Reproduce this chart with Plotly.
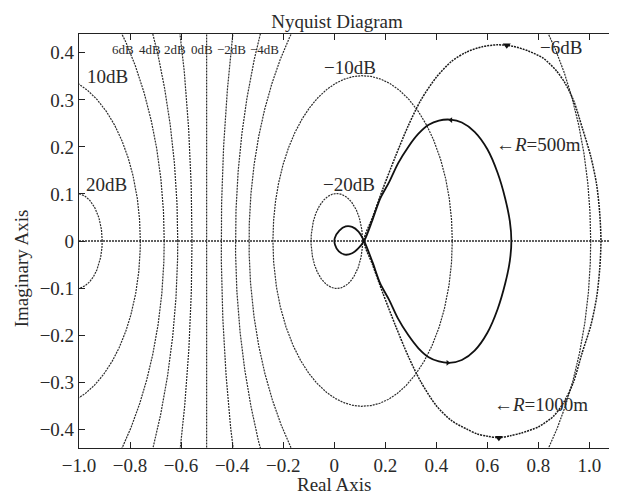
import numpy as np
import plotly.graph_objects as go

# ---------------- data ----------------
db_levels = [20, 10, 6, 4, 2, 0, -2, -4, -6, -10, -20]

r500_x = [0.117, 0.15, 0.18, 0.215, 0.25, 0.29, 0.33, 0.37, 0.41, 0.455, 0.50, 0.55, 0.60, 0.64, 0.67, 0.688, 0.694,
          0.688, 0.67, 0.64, 0.60, 0.55, 0.50, 0.45, 0.41, 0.37, 0.33, 0.29, 0.25, 0.215, 0.18, 0.15, 0.117,
          0.095, 0.07, 0.045, 0.02, 0.002, 0.003, 0.018, 0.042, 0.07, 0.095, 0.117]
r500_y = [0.0, 0.045, 0.09, 0.125, 0.165, 0.20, 0.228, 0.247, 0.256, 0.258, 0.252, 0.232, 0.195, 0.145, 0.09, 0.042, 0.0,
          -0.042, -0.09, -0.145, -0.195, -0.233, -0.253, -0.259, -0.256, -0.247, -0.228, -0.20, -0.165, -0.125, -0.09, -0.045, 0.0,
          0.02, 0.03, 0.031, 0.022, 0.006, -0.008, -0.022, -0.029, -0.026, -0.015, 0.0]

r1000_x = [0.117, 0.15, 0.19, 0.24, 0.29, 0.34, 0.40, 0.46, 0.52, 0.58, 0.64, 0.70, 0.76, 0.82, 0.87, 0.905,
           0.938, 0.972, 1.005, 1.028, 1.04, 1.045,
           1.04, 1.028, 1.005, 0.97, 0.936, 0.90, 0.86, 0.80, 0.734, 0.69, 0.645, 0.60, 0.56, 0.52,
           0.46, 0.40, 0.34, 0.29, 0.24, 0.19, 0.15, 0.117]
r1000_y = [0.0, 0.05, 0.11, 0.18, 0.245, 0.30, 0.348, 0.382, 0.402, 0.413, 0.417, 0.414, 0.404, 0.388, 0.362, 0.335,
           0.298, 0.24, 0.18, 0.12, 0.06, 0.0,
           -0.06, -0.12, -0.18, -0.24, -0.302, -0.342, -0.372, -0.395, -0.408, -0.414, -0.418, -0.415, -0.41, -0.40,
           -0.382, -0.35, -0.30, -0.245, -0.18, -0.11, -0.05, 0.0]

arrow1000_x = [0.676, 0.645]
arrow1000_y = [0.416, -0.418]
arrow500_x = [0.457, 0.445]
arrow500_y = [0.257, -0.259]

x_tick_vals = [-1.0, -0.8, -0.6, -0.4, -0.2, 0, 0.2, 0.4, 0.6, 0.8, 1.0]
x_tick_text = ["\u22121.0", "\u22120.8", "\u22120.6", "\u22120.4", "\u22120.2", "0", "0.2", "0.4", "0.6", "0.8", "1.0"]
y_tick_vals = [-0.4, -0.3, -0.2, -0.1, 0, 0.1, 0.2, 0.3, 0.4]
y_tick_text = ["\u22120.4", "\u22120.3", "\u22120.2", "\u22120.1", "0", "0.1", "0.2", "0.3", "0.4"]

grid_labels = ["6dB", "4dB", "2dB", "0dB", "\u22122dB", "\u22124dB"]
grid_label_x = [-0.827, -0.721, -0.623, -0.519, -0.404, -0.274]
grid_label_y = 0.407

big_labels = ["10dB", "20dB", "\u221210dB", "\u221220dB", "\u22126dB",
              "\u2190<i>R</i>=500m", "\u2190<i>R</i>=1000m"]
big_label_x = [-0.889, -0.893, 0.06, 0.059, 0.89, 0.80, 0.811]
big_label_y = [0.35, 0.12, 0.369, 0.12, 0.412, 0.205, -0.348]

XR = [-1.0, 1.1]
YR = [-0.44, 0.44]

FONT = "Liberation Serif"
TXT = "#2a2a2a"
GRID_C = "#2c2c2c"

# page body has an 8px margin -> figure placed at (8, 8)
W, H = 609, 488

fig = go.Figure()

# real axis dotted line
fig.add_trace(go.Scatter(x=XR, y=[0, 0], mode="lines",
                         line=dict(color=GRID_C, width=1.6, dash="2px,1px"),
                         hoverinfo="skip", showlegend=False))

# constant-magnitude (M) circles
t = np.linspace(0, 2 * np.pi, 1441)
for db in db_levels:
    M = 10 ** (db / 20.0)
    if db == 0:
        xs, ys = [-0.5, -0.5], [-1, 1]
    else:
        c = M * M / (1 - M * M)
        r = abs(M / (1 - M * M))
        xs, ys = c + r * np.cos(t), r * np.sin(t)
    fig.add_trace(go.Scatter(x=xs, y=ys, mode="lines",
                             line=dict(color=GRID_C, width=1.2, dash="2px,1px"),
                             hoverinfo="skip", showlegend=False))

# Nyquist curves
fig.add_trace(go.Scatter(x=r1000_x, y=r1000_y, mode="lines",
                         line=dict(color="#1a1a1a", width=1.5, dash="2px,1px", shape="spline", smoothing=0.8),
                         showlegend=False))
fig.add_trace(go.Scatter(x=r500_x, y=r500_y, mode="lines",
                         line=dict(color="#111", width=1.8, shape="spline", smoothing=0.8),
                         showlegend=False))
fig.add_trace(go.Scatter(x=arrow1000_x, y=arrow1000_y, mode="markers",
                         marker=dict(symbol="triangle-down", size=7, color="#111"), showlegend=False))
fig.add_trace(go.Scatter(x=arrow500_x, y=arrow500_y, mode="markers",
                         marker=dict(symbol=["triangle-left", "triangle-right"], size=5, color="#111"),
                         showlegend=False))

for txt, xx in zip(grid_labels, grid_label_x):
    fig.add_annotation(x=xx, y=grid_label_y, text=txt, showarrow=False,
                       font=dict(family=FONT, size=13, color=TXT), xanchor="center", yanchor="middle")
for txt, xx, yy in zip(big_labels, big_label_x, big_label_y):
    fig.add_annotation(x=xx, y=yy, text=txt, showarrow=False,
                       font=dict(family=FONT, size=19, color=TXT), xanchor="center", yanchor="middle")

# axis titles
fig.add_annotation(x=0.0, y=0, xref="x", yref="paper", text="Real Axis", showarrow=False,
                   yshift=-36, xanchor="center", yanchor="middle",
                   font=dict(family=FONT, size=19, color=TXT))
fig.add_annotation(x=0, y=-0.058, xref="paper", yref="y", text="Imaginary Axis", showarrow=False,
                   xshift=-58, textangle=-90, xanchor="center", yanchor="middle",
                   font=dict(family=FONT, size=19, color=TXT))

axis_common = dict(showgrid=False, zeroline=False, showline=True, linecolor="#222", linewidth=1.2,
                   mirror="ticks", ticks="inside", ticklen=6, tickcolor="#222", tickwidth=1.2,
                   tickfont=dict(family=FONT, size=19, color=TXT))

fig.update_layout(
    width=W, height=H,
    margin=dict(l=71, r=2, t=26, b=48),
    paper_bgcolor="white", plot_bgcolor="white",
    title=dict(text="Nyquist Diagram", x=(337 - 8) / W, xanchor="center", xref="container",
               y=1 - (21.6 - 8) / H, yanchor="middle", yref="container",
               font=dict(family=FONT, size=19, color=TXT)),
    xaxis=dict(range=XR, tickvals=x_tick_vals, ticktext=x_tick_text, **axis_common),
    yaxis=dict(range=YR, tickvals=y_tick_vals, ticktext=y_tick_text, **axis_common),
)

fig.write_html("out.html")
